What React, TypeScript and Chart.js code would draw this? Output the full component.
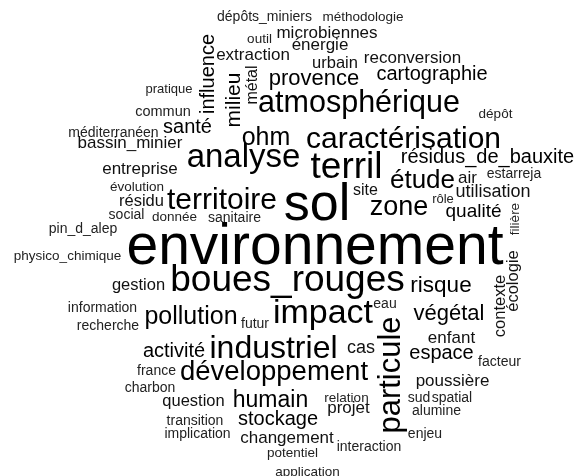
import React, { useEffect, useRef } from "react";
import { Chart, registerables } from "chart.js";

Chart.register(...registerables);

// Word cloud: each word is a point on a hidden linear x/y scale (cloud layout space 0..576 x 0..476),
// its weight gives the font size and "vertical" flags words drawn rotated.
const words: string[] = [
  "environnement", "sol", "boues_rouges", "terril", "particule", "analyse", "impact", "industriel",
  "atmosphérique", "caractérisation", "territoire", "développement", "zone", "étude", "ohm", "pollution",
  "humain", "risque", "provence", "végétal", "milieu", "santé", "cartographie", "activité", "influence",
  "espace", "résidus_de_bauxite", "stockage", "qualité", "utilisation", "cas", "bassin_minier", "entreprise",
  "extraction", "microbiennes", "énergie", "reconversion", "urbain", "enfant", "poussière", "projet",
  "changement", "gestion", "question", "résidu", "air", "site", "métal", "écologie", "contexte",
  "commun", "méditerranéen", "social", "sanitaire", "dépôts_miniers", "méthodologie", "outil", "dépôt",
  "estarreja", "pin_d_alep", "physico_chimique", "information", "recherche", "futur", "eau", "facteur",
  "france", "charbon", "sud", "spatial", "alumine", "enjeu", "interaction", "transition", "implication",
  "relation", "potentiel", "application", "pratique", "évolution", "donnée", "rôle", "filière"
];

const weights: number[] = [
  57, 52, 37, 37, 31, 33, 34, 32,
  30.5, 30, 30, 27.5, 27, 26, 25, 25,
  23, 22.5, 22, 22, 21, 20, 20, 20, 20,
  20, 20, 20, 19, 18, 18, 17, 17,
  17, 17, 17, 17, 16.5, 17, 17, 17,
  17, 16.5, 16.5, 16.5, 17, 16, 16, 16.5, 16.5,
  14.5, 14, 14, 14, 14, 13.5, 13.5, 13.5,
  14, 14, 13.5, 14, 14, 14, 14, 14,
  14, 14, 14, 14, 14, 14, 14, 14, 14,
  13.5, 13.5, 13.5, 13, 13.5, 13.5, 13, 13.5
];

const cloudX: number[] = [
  315, 317, 287.5, 346.5, 400, 243.5, 323, 273.5,
  359, 403.5, 222, 274, 399, 422.5, 266, 191,
  270.5, 441, 314, 449, 240, 187.5, 432, 174, 214,
  441.5, 487.5, 278, 473.5, 493, 361, 130, 140,
  253, 327, 320, 412.5, 335, 451.5, 452.5, 348.5,
  287, 138.5, 193.5, 141.5, 467.5, 365.5, 257, 518, 505,
  163, 113.5, 126.5, 234.5, 264.5, 363, 259.5, 495.5,
  514, 83, 67.5, 102.5, 108, 255, 385, 499.5,
  156.5, 150, 419, 452, 436.5, 425, 369, 195, 197.5,
  346.5, 292.5, 307.5, 169, 137, 174.5, 443, 519
];

const cloudY: number[] = [
  264, 220, 291, 178, 375, 167, 323, 358,
  112, 148, 209, 380, 215, 188, 145, 324,
  407, 292, 85, 320, 100, 133, 80, 357, 74,
  359, 163, 425, 217, 197, 353, 148, 174,
  60, 38, 50, 63, 68, 343, 386, 413,
  443, 290, 406, 206, 183, 195, 85, 281, 306,
  116, 137, 219, 222, 21, 21, 43, 118,
  178, 233, 260, 312, 330, 328, 308, 366,
  375, 392, 402, 402, 415, 438, 451, 425, 438,
  402, 457, 476, 93, 191, 221, 203, 219
];

const vertical: boolean[] = words.map((w) =>
  ["particule", "milieu", "influence", "métal", "écologie", "contexte", "filière"].includes(w)
);

const wordPlugin = {
  id: "wordCloud",
  afterDatasetsDraw(chart: any) {
    const ctx = chart.ctx;
    const meta = chart.getDatasetMeta(0);
    meta.data.forEach((pt: any, i: number) => {
      const { x, y } = pt.getProps(["x", "y"], true);
      ctx.save();
      ctx.translate(x, y);
      if (vertical[i]) ctx.rotate(-Math.PI / 2);
      ctx.font = `${weights[i]}px "Liberation Sans", Arial, sans-serif`;
      ctx.fillStyle = weights[i] >= 19 ? "#000000" : weights[i] >= 15 ? "#111111" : "#222222";
      ctx.textAlign = "center";
      ctx.textBaseline = "alphabetic";
      ctx.fillText(words[i], 0, 0);
      ctx.restore();
    });
  },
};

export default function App() {
  const ref = useRef<HTMLCanvasElement | null>(null);
  useEffect(() => {
    if (!ref.current) return;
    const chart = new Chart(ref.current, {
      type: "scatter",
      data: {
        datasets: [
          {
            data: words.map((_, i) => ({ x: cloudX[i], y: cloudY[i] })),
            pointRadius: 0,
            pointHoverRadius: 0,
          },
        ],
      },
      options: {
        responsive: false,
        animation: false,
        layout: { padding: 0 },
        plugins: { legend: { display: false }, tooltip: { enabled: false } },
        scales: {
          x: { type: "linear", min: 0, max: 576, display: false },
          y: { type: "linear", min: 0, max: 476, reverse: true, display: false },
        },
      },
      plugins: [wordPlugin],
    });
    return () => chart.destroy();
  }, []);
  return (
    <div style={{ position: "fixed", left: 0, top: 0, width: 576, height: 476, background: "#fff" }}>
      <canvas ref={ref} width={576} height={476} />
    </div>
  );
}
